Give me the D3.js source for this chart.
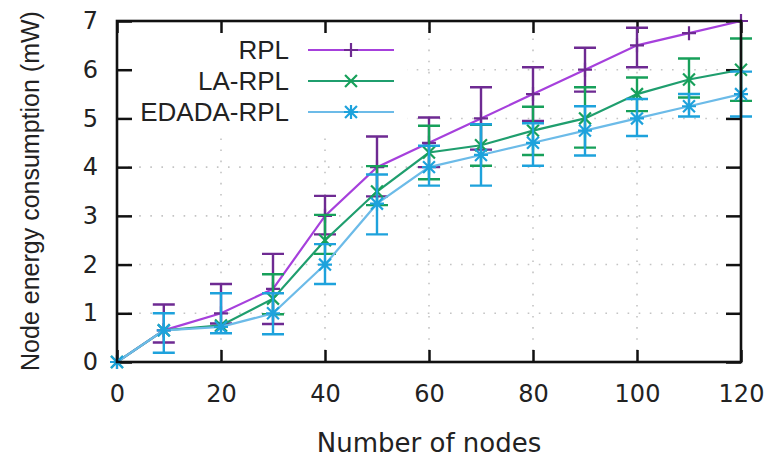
<!DOCTYPE html>
<html>
<head>
<meta charset="utf-8">
<script src="https://cdn.jsdelivr.net/npm/d3@7/dist/d3.min.js"></script>
<style>
  html, body { margin: 0; padding: 0; background: #fff; }
  svg { display: block; }
</style>
</head>
<body>
<svg id="chart" width="781" height="461"></svg>
<script>
// ---- data ----
const nodes = [0, 9, 20, 30, 40, 50, 60, 70, 80, 90, 100, 110, 120];

const rpl      = [0, 0.65, 1.00, 1.50, 3.00, 4.00, 4.50, 5.00, 5.50, 6.00, 6.50, 6.75, 7.00];
const rplLow   = [0, 0.40, 0.79, 0.78, 2.62, 3.40, 4.00, 4.36, 4.95, 5.55, 6.05, 6.75, 7.00];
const rplHigh  = [0, 1.18, 1.60, 2.22, 3.41, 4.63, 5.02, 5.64, 6.05, 6.45, 6.86, 6.75, 7.00];

const laRpl     = [0, 0.65, 0.75, 1.30, 2.50, 3.50, 4.30, 4.45, 4.75, 5.00, 5.50, 5.80, 6.00];
const laRplLow  = [0, 0.65, 0.75, 0.98, 2.22, 3.22, 3.75, 4.03, 4.25, 4.40, 5.15, 5.43, 5.36];
const laRplHigh = [0, 0.65, 0.75, 1.80, 3.02, 4.02, 4.85, 4.87, 5.24, 5.64, 5.84, 6.23, 6.64];

const edadaRpl     = [0, 0.65, 0.72, 1.00, 2.00, 3.25, 4.00, 4.25, 4.50, 4.75, 5.00, 5.25, 5.50];
const edadaRplLow  = [0, 0.19, 0.59, 0.57, 1.60, 2.62, 3.62, 3.62, 4.03, 4.24, 4.64, 5.04, 5.04];
const edadaRplHigh = [0, 1.00, 1.41, 1.41, 2.42, 3.85, 4.44, 4.88, 4.90, 5.25, 5.40, 5.50, 5.96];

const seriesNames = ["RPL", "LA-RPL", "EDADA-RPL"];
const xTicks = [0, 20, 40, 60, 80, 100, 120];
const yTicks = [0, 1, 2, 3, 4, 5, 6, 7];
const xTitle = "Number of nodes";
const yTitle = "Node energy consumption (mW)";

// ---- styling ----
const lineColors = ["#a640dc", "#1f9e6e", "#6cbbe8"];
const barColors  = ["#6e2a92", "#17a05a", "#1ea2dc"];
const markerTypes = ["plus", "cross", "star"];

const series = [
  { name: seriesNames[0], y: rpl, lo: rplLow, hi: rplHigh },
  { name: seriesNames[1], y: laRpl, lo: laRplLow, hi: laRplHigh },
  { name: seriesNames[2], y: edadaRpl, lo: edadaRplLow, hi: edadaRplHigh }
];

const margin = { left: 117, right: 40, top: 21, bottom: 99 };
const W = 781, H = 461;
const svg = d3.select("#chart");

const x = d3.scaleLinear().domain([0, 120]).range([margin.left, W - margin.right]);
const y = d3.scaleLinear().domain([0, 7]).range([H - margin.bottom, margin.top]);

const x0 = x.range()[0], x1 = x.range()[1];
const y0 = y.range()[0], y1 = y.range()[1];

// grid
const grid = svg.append("g").attr("stroke", "#c4c4c4").attr("stroke-width", 1.6)
  .attr("stroke-dasharray", "1.6 9.5").attr("fill", "none");
grid.selectAll("line.gx").data(xTicks.slice(1, -1)).join("line")
  .attr("x1", d => x(d)).attr("x2", d => x(d)).attr("y1", y0).attr("y2", y1);
grid.selectAll("line.gy").data(yTicks.slice(1, -1)).join("line")
  .attr("x1", x0).attr("x2", x1).attr("y1", d => y(d)).attr("y2", d => y(d));

// legend background (opaque key)
svg.append("rect").attr("x", x0 + 2).attr("y", y1 + 2).attr("width", 288).attr("height", 107).attr("fill", "#fff");

// axes with inward ticks on all sides
const axisFont = "'DejaVu Sans', Verdana, sans-serif";
const gB = svg.append("g").attr("transform", `translate(0,${y0})`)
  .call(d3.axisBottom(x).tickValues(xTicks).tickFormat(d3.format("d")).tickSize(-12).tickPadding(20).tickSizeOuter(0));
const gT = svg.append("g").attr("transform", `translate(0,${y1})`)
  .call(d3.axisTop(x).tickValues(xTicks).tickSize(-12).tickFormat("").tickSizeOuter(0));
const gL = svg.append("g").attr("transform", `translate(${x0},0)`)
  .call(d3.axisLeft(y).tickValues(yTicks).tickFormat(d3.format("d")).tickSize(-15).tickPadding(19).tickSizeOuter(0));
const gR = svg.append("g").attr("transform", `translate(${x1},0)`)
  .call(d3.axisRight(y).tickValues(yTicks).tickSize(-15).tickFormat("").tickSizeOuter(0));
[gB, gT, gL, gR].forEach(g => {
  g.select(".domain").remove();
  g.selectAll(".tick line").attr("stroke", "#111").attr("stroke-width", 2.5);
  g.selectAll("text").attr("fill", "#222").style("font-family", axisFont).style("font-size", "24px");
});
gB.selectAll(".tick text").attr("dy", "0.71em").attr("y", 23);

// legend
const legendFont = "'Liberation Sans', Arial, sans-serif";
const legY = [50, 81, 112];
const leg = svg.append("g");
series.forEach((s, i) => {
  leg.append("text").attr("x", 289).attr("y", legY[i]).attr("dy", "0.36em")
    .attr("text-anchor", "end").attr("fill", "#222")
    .style("font-family", legendFont).style("font-size", "26px").text(s.name);
  leg.append("line").attr("x1", 308).attr("x2", 394).attr("y1", legY[i]).attr("y2", legY[i])
    .attr("stroke", lineColors[i]).attr("stroke-width", 2.2);
});

function markerPath(type, cx, cy, r) {
  const p = d3.path();
  if (type === "plus" || type === "star") {
    p.moveTo(cx - r, cy); p.lineTo(cx + r, cy);
    p.moveTo(cx, cy - r); p.lineTo(cx, cy + r);
  }
  if (type === "cross" || type === "star") {
    const q = r * 0.85;
    p.moveTo(cx - q, cy - q); p.lineTo(cx + q, cy + q);
    p.moveTo(cx - q, cy + q); p.lineTo(cx + q, cy - q);
  }
  return p.toString();
}

// series
series.forEach((s, i) => {
  const pts = nodes.map((n, k) => ({ n, v: s.y[k], lo: s.lo[k], hi: s.hi[k] }));
  const g = svg.append("g");
  const line = d3.line().x(d => x(d.n)).y(d => y(d.v));
  g.append("path").datum(pts).attr("d", line).attr("fill", "none")
    .attr("stroke", lineColors[i]).attr("stroke-width", 2.2);
  const eb = pts.filter(d => d.hi - d.lo > 0.001);
  const cap = 11;
  g.selectAll("path.err").data(eb).join("path").attr("class", "err")
    .attr("d", d => {
      const p = d3.path();
      p.moveTo(x(d.n), y(d.lo)); p.lineTo(x(d.n), y(d.hi));
      p.moveTo(x(d.n) - cap, y(d.lo)); p.lineTo(x(d.n) + cap, y(d.lo));
      p.moveTo(x(d.n) - cap, y(d.hi)); p.lineTo(x(d.n) + cap, y(d.hi));
      return p.toString();
    })
    .attr("fill", "none").attr("stroke", barColors[i]).attr("stroke-width", 2.4);
  g.selectAll("path.mk").data(pts).join("path").attr("class", "mk")
    .attr("d", d => markerPath(markerTypes[i], x(d.n), y(d.v), 7))
    .attr("fill", "none").attr("stroke", barColors[i]).attr("stroke-width", 2.2);
  leg.append("path").attr("d", markerPath(markerTypes[i], 351, legY[i], 7))
    .attr("fill", "none").attr("stroke", barColors[i]).attr("stroke-width", 2.2);
});

// frame
svg.append("rect").attr("x", x0).attr("y", y1).attr("width", x1 - x0).attr("height", y0 - y1)
  .attr("fill", "none").attr("stroke", "#111").attr("stroke-width", 2.6);

// titles
svg.append("text").attr("x", (x0 + x1) / 2).attr("y", 452).attr("text-anchor", "middle")
  .attr("fill", "#222").style("font-family", axisFont).style("font-size", "26px").text(xTitle);
svg.append("text").attr("transform", `translate(30,191) rotate(-90)`).attr("text-anchor", "middle")
  .attr("dy", "0.35em").attr("fill", "#222")
  .style("font-family", legendFont).style("font-size", "25px").text(yTitle);
</script>
</body>
</html>
